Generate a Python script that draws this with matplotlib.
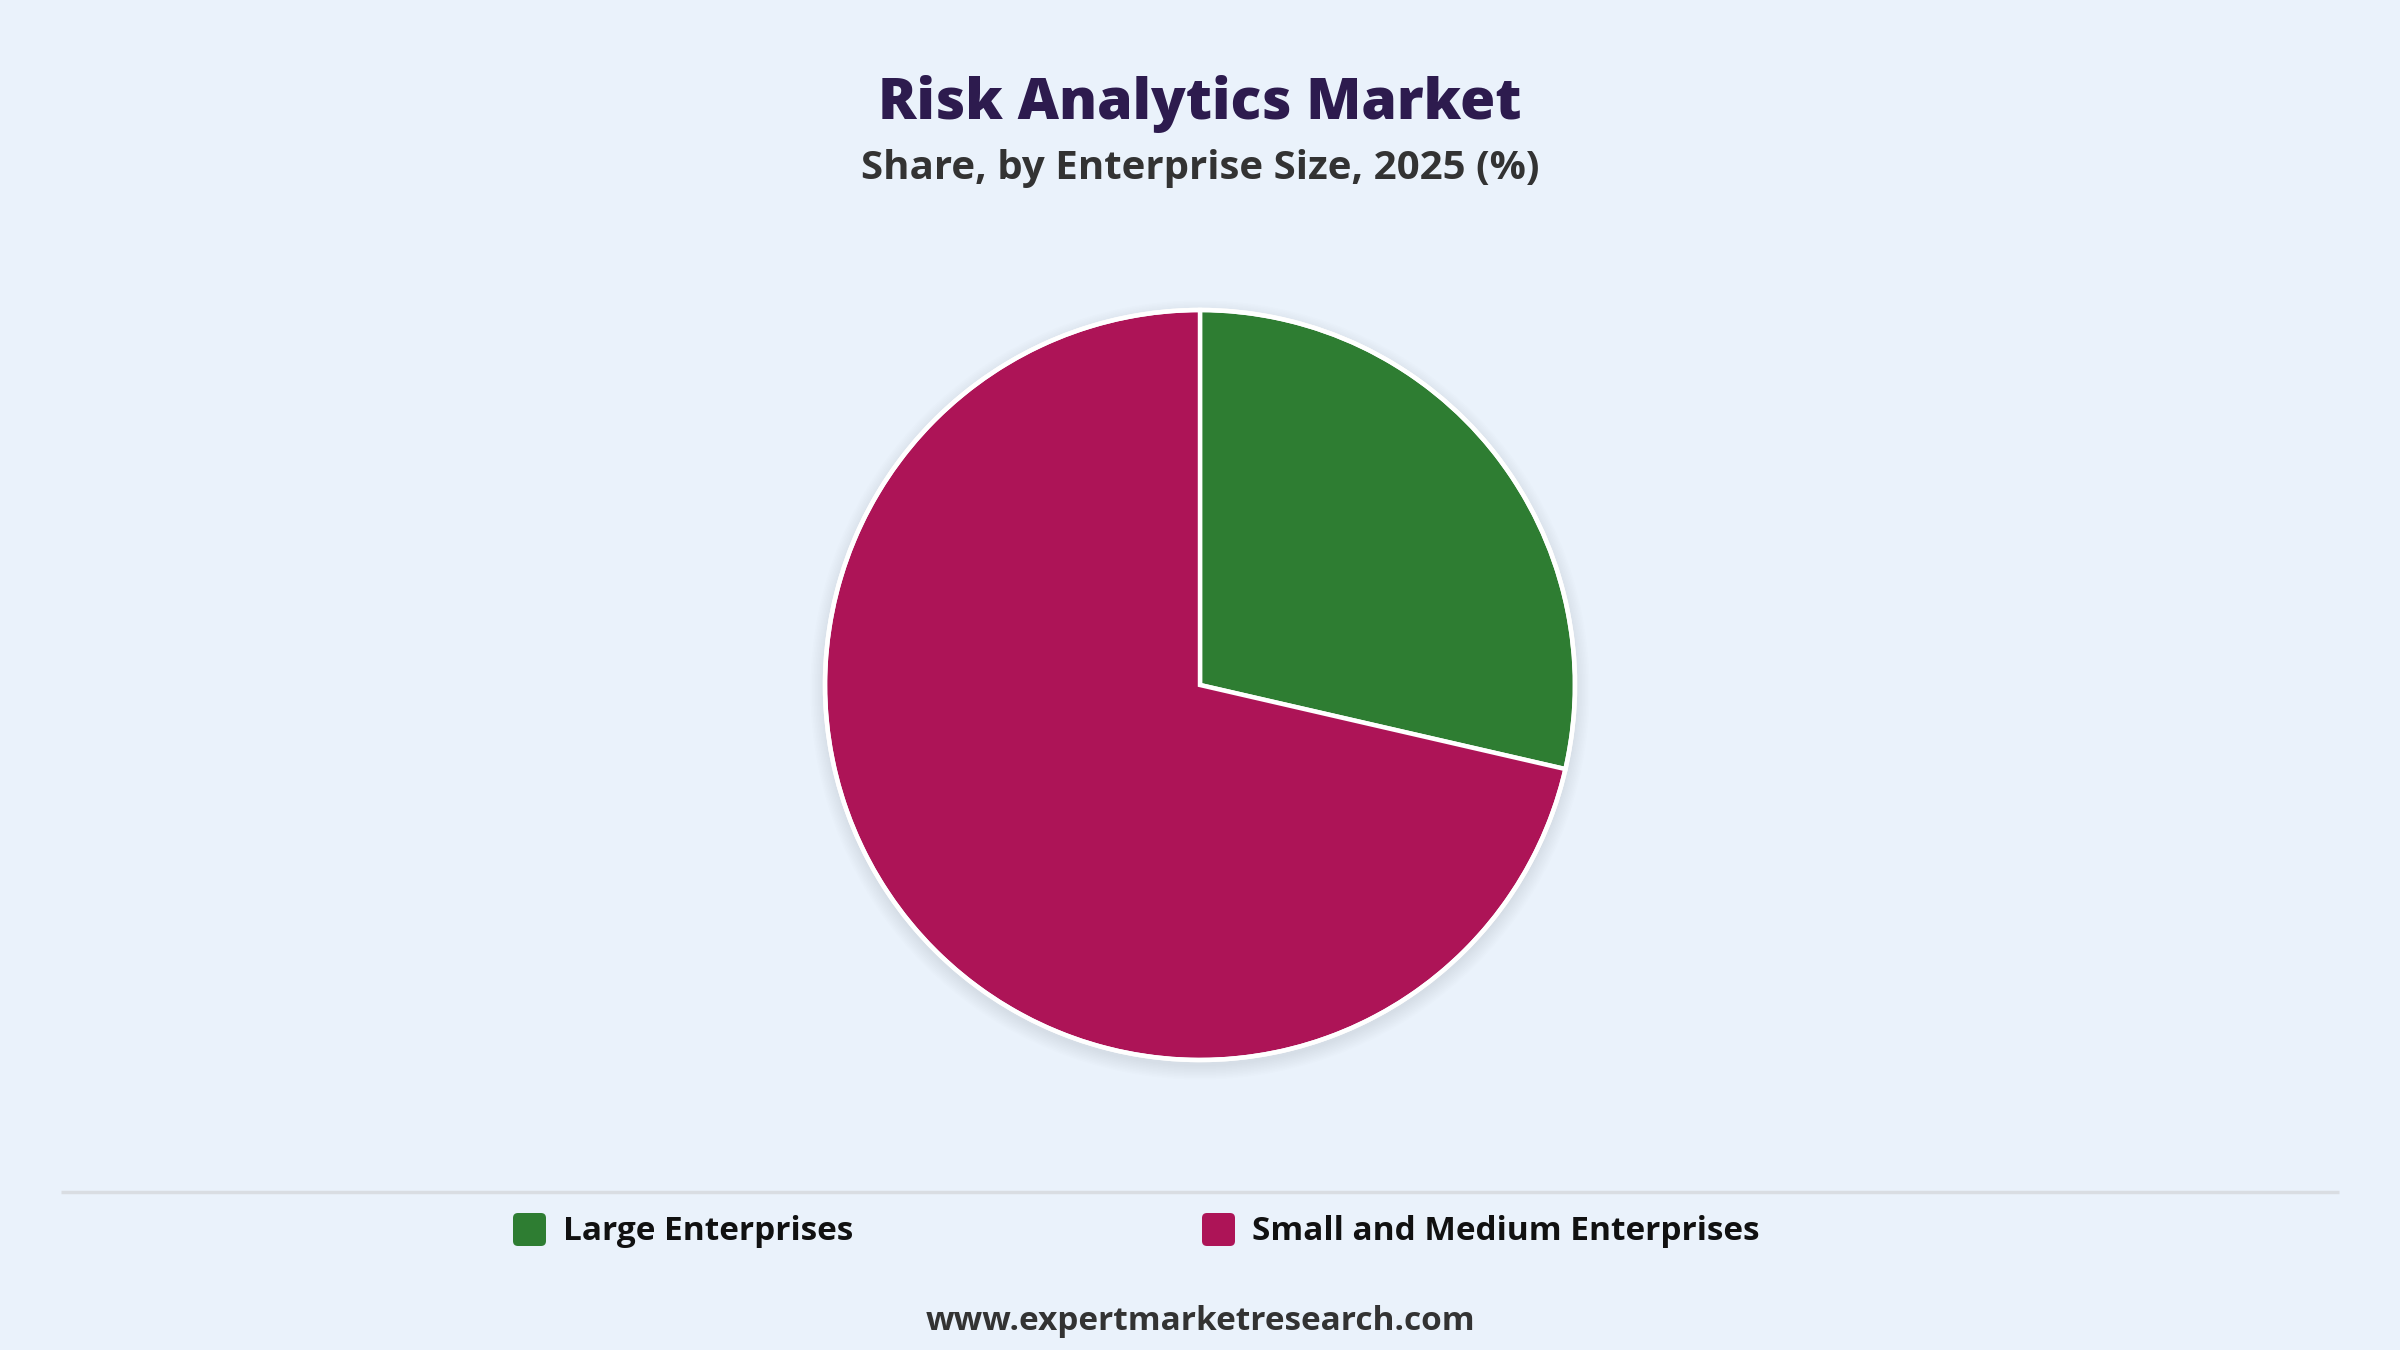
import matplotlib
matplotlib.use("Agg")
import matplotlib.pyplot as plt
from matplotlib.patches import Circle, FancyBboxPatch

categories = ["Large Enterprises", "Small and Medium Enterprises"]
shares = [28.6, 71.4]
colors = ["#2E7D32", "#AD1457"]

title = "Risk Analytics Market"
subtitle = "Share, by Enterprise Size, 2025 (%)"
footer = "www.expertmarketresearch.com"

BG = "#EAF2FB"
plt.rcParams['font.family'] = ['Open Sans', 'DejaVu Sans']

W, H = 2400, 1350
fig = plt.figure(figsize=(24, 13.5), dpi=100, facecolor=BG)
ax = fig.add_axes([0, 0, 1, 1])
ax.set_facecolor(BG)

cx, cy, r = 1200, H - 685, 375

# soft shadow
for i in range(10):
    rr = r + 1 + i * 1.5
    ax.add_patch(Circle((cx, cy - 5), rr, color="#9aa8b8", alpha=0.025, lw=0, zorder=1))

ax.pie(shares, colors=colors, startangle=90, counterclock=False,
       center=(cx, cy), radius=r,
       wedgeprops=dict(edgecolor="white", linewidth=3.2, joinstyle="miter", zorder=2))
ax.add_patch(Circle((cx, cy), r, fill=False, ec="white", lw=3.2, zorder=3))

ax.set_xlim(0, W)
ax.set_ylim(0, H)
ax.set_aspect('equal')
ax.axis('off')

ax.text(W / 2, H - 104, title, ha='center', va='center', fontsize=41,
        fontweight='heavy', color="#2D1B4E")
ax.text(W / 2, H - 169, subtitle, ha='center', va='center', fontsize=29,
        fontweight='bold', color="#333333")

# separator
ax.plot([61, 2339], [H - 1192, H - 1192], color="#D9DDE2", lw=2.5, solid_capstyle='butt')

# legend
leg_x = [511, 1200]
for x0, lab, col in zip(leg_x, categories, colors):
    ax.add_patch(FancyBboxPatch((x0 + 2, H - 1229 - 17), 33, 33,
                                boxstyle="round,pad=0,rounding_size=5",
                                fc=col, ec='none', zorder=3))
    ax.text(x0 + 52, H - 1231, lab, ha='left', va='center', fontsize=24,
            fontweight='bold', color="#111111")

ax.text(W / 2, H - 1321, footer, ha='center', va='center', fontsize=24,
        fontweight='bold', color="#333333")

fig.savefig("out.png", dpi=100, facecolor=BG)
